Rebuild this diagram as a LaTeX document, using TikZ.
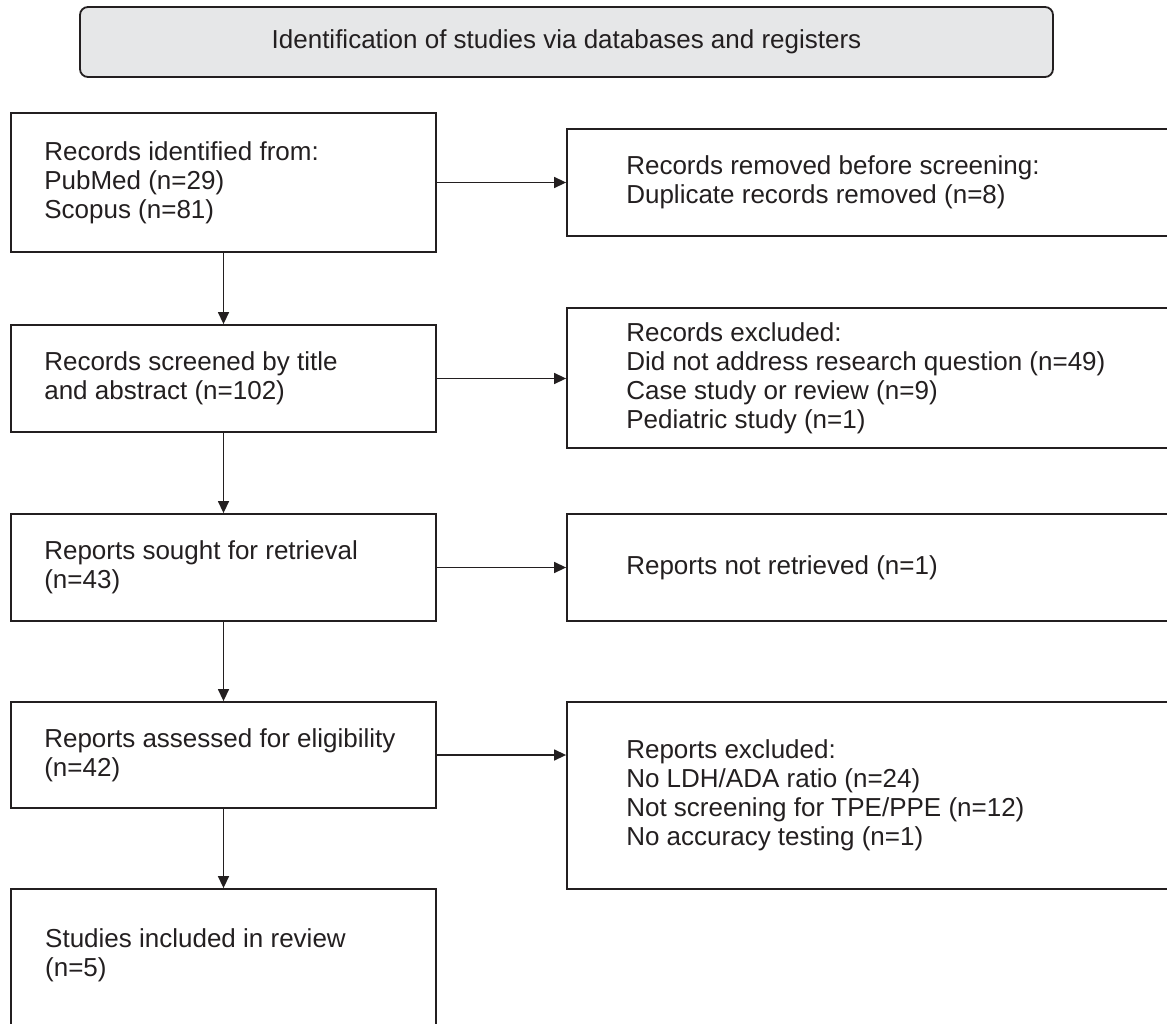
\documentclass[tikz,border=0pt]{standalone}
\usepackage{fontspec}
\setmainfont{Liberation Sans}
\usetikzlibrary{arrows.meta,calc}
\definecolor{ink}{HTML}{231F20}
\definecolor{bannerfill}{HTML}{E6E7E8}
\begin{document}
\begin{tikzpicture}[x=1pt,y=-1pt,
  box/.style={draw=ink, line width=1.8pt, rectangle, inner sep=0pt},
  banner/.style={draw=ink, line width=1.8pt, fill=bannerfill, rounded corners=8pt, inner sep=0pt,
    font=\fontsize{26}{29}\selectfont, text=ink},
  txt/.style={inner sep=0pt, align=left, anchor=west, text=ink, font=\fontsize{26}{29}\selectfont},
  arr/.style={draw=ink, line width=1.4pt, -{Triangle[length=12pt,width=11pt]}}]
\useasboundingbox (0,0) rectangle (1167,1024);

\node[banner, minimum width=973pt, minimum height=70pt] (ban) at (566.5,42)
  {Identification of studies via databases and registers};

% left column
\node[box, minimum width=425pt, minimum height=139pt] (b1) at (223.5,182.5) {};
\node[txt] (t1) at ([xshift=34pt]b1.west) {Records identified from:\\PubMed (n=29)\\Scopus (n=81)};

\node[box, minimum width=425pt, minimum height=107pt] (b2) at (223.5,378.5) {};
\node[txt] (t2) at ([xshift=34pt]b2.west) {Records screened by title\\and abstract (n=102)};

\node[box, minimum width=425pt, minimum height=107pt] (b3) at (223.5,567.5) {};
\node[txt] (t3) at ([xshift=34pt]b3.west) {Reports sought for retrieval\\(n=43)};

\node[box, minimum width=425pt, minimum height=106pt] (b4) at (223.5,755) {};
\node[txt] (t4) at ([xshift=34pt]b4.west) {Reports assessed for eligibility\\(n=42)};

\node[box, minimum width=425pt, minimum height=141pt] (b5) at (223.5,959.5) {};
\node[txt] (t5) at (45,955) {Studies included in review\\(n=5)};

% right column
\node[box, minimum width=605pt, minimum height=107pt] (r1) at (869.5,182.5) {};
\node[txt] (u1) at ([xshift=60pt]r1.west) {Records removed before screening:\\Duplicate records removed (n=8)};

\node[box, minimum width=605pt, minimum height=140pt] (r2) at (869.5,378) {};
\node[txt] (u2) at ([xshift=60pt]r2.west) {Records excluded:\\Did not address research question (n=49)\\Case study or review (n=9)\\Pediatric study (n=1)};

\node[box, minimum width=605pt, minimum height=107pt] (r3) at (869.5,567.5) {};
\node[txt] (u3) at ([xshift=60pt]r3.west) {Reports not retrieved (n=1)};

\node[box, minimum width=605pt, minimum height=187pt] (r4) at (869.5,795.5) {};
\node[txt] (u4) at ([xshift=60pt]r4.west) {Reports excluded:\\No LDH/ADA ratio (n=24)\\Not screening for TPE/PPE (n=12)\\No accuracy testing (n=1)};

% connectors
\draw[arr] (b1.south) -- (b2.north);
\draw[arr] (b2.south) -- (b3.north);
\draw[arr] (b3.south) -- (b4.north);
\draw[arr] (b4.south) -- (b5.north);
\draw[arr] (b1.east) -- (b1.east -| r1.west);
\draw[arr] (b2.east) -- (b2.east -| r2.west);
\draw[arr] (b3.east) -- (b3.east -| r3.west);
\draw[arr] (b4.east) -- (b4.east -| r4.west);
\end{tikzpicture}
\end{document}
